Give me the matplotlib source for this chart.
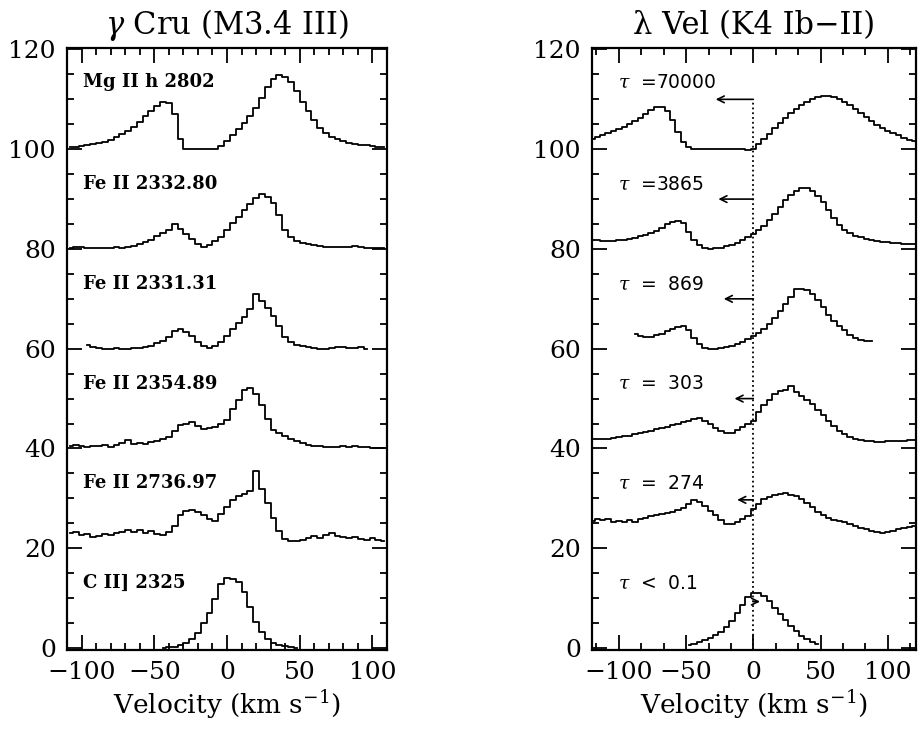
import numpy as np
import matplotlib
matplotlib.use('agg')
matplotlib.rcParams.update(
    {'font.size': 18,
     'font.family': 'DejaVu Serif',
     'mathtext.fontset': 'dejavuserif',
     'axes.linewidth': 1.6}
)
import matplotlib.pyplot as plt
from matplotlib.ticker import MultipleLocator

# ---- gamma Cru (left panel), velocity grids in km/s ----
v_full = np.arange(-108, 109, 4)
v_2331 = np.arange(-96, 97, 4)
v_cii = np.arange(-44, 49, 4)

mg2802 = [100.4, 100.5, 100.6, 100.8, 101.0, 101.2, 101.5, 101.9, 102.4, 103.0,
          103.7, 104.5, 105.5, 106.6, 107.7, 108.7, 109.5, 109.3, 107.0, 102.0,
          100.1, 100.0, 100.0, 100.0, 100.0, 100.1, 100.6, 101.6, 102.8, 104.0,
          105.2, 106.6, 108.2, 110.2, 112.4, 114.0, 114.8, 114.5, 113.5, 111.7,
          109.5, 107.6, 105.8, 104.3, 103.2, 102.5, 102.0, 101.6, 101.3, 101.1,
          100.9, 100.8, 100.6, 100.5, 100.4]
fe2332 = [80.2, 80.3, 80.4, 80.2, 80.1, 80.1, 80.2, 80.2, 80.3, 80.2,
          80.3, 80.6, 80.9, 81.3, 81.8, 82.6, 83.2, 83.8, 85.0, 84.0,
          83.0, 82.0, 81.0, 80.4, 80.8, 81.6, 82.5, 83.8, 85.2, 86.5,
          87.8, 89.0, 90.2, 91.0, 90.5, 89.3, 86.8, 83.8, 82.4, 81.6,
          81.2, 80.9, 80.7, 80.5, 80.4, 80.3, 80.3, 80.4, 80.3, 80.5,
          80.4, 80.2, 80.2, 80.1, 80.1]
fe2331 = [60.7, 60.3, 60.1, 60.0, 60.0, 60.1, 60.0, 60.0, 60.1, 60.2,
          60.4, 60.6, 61.2, 61.6, 62.4, 63.6, 64.0, 63.4, 62.5, 61.3,
          60.5, 60.1, 60.6, 61.4, 62.6, 64.0, 65.2, 66.3, 68.0, 71.0,
          69.5, 68.2, 66.6, 64.6, 62.4, 61.3, 60.8, 60.5, 60.3, 60.2,
          60.0, 60.0, 60.1, 60.3, 60.4, 60.2, 60.2, 60.4, 60.0]
fe2354 = [40.4, 40.6, 40.4, 40.3, 40.5, 40.4, 40.6, 40.3, 40.6, 41.0,
          41.6, 40.9, 41.0, 40.8, 41.2, 41.4, 41.8, 42.4, 43.5, 44.8,
          45.0, 45.3, 44.5, 44.0, 44.2, 44.3, 45.0, 45.8, 48.0, 49.8,
          51.8, 52.2, 51.0, 48.8, 46.0, 43.8, 43.2, 42.5, 42.0, 41.5,
          41.0, 40.7, 40.5, 40.4, 40.2, 40.3, 40.3, 40.4, 40.3, 40.5,
          40.2, 40.3, 40.1, 40.1, 40.0]
fe2736 = [23.0, 23.2, 22.6, 22.8, 22.2, 22.5, 22.8, 22.6, 23.0, 23.2,
          23.6, 23.3, 23.6, 23.0, 23.5, 22.8, 22.6, 23.2, 24.5, 26.6,
          27.4, 27.6, 27.2, 26.6, 25.8, 25.4, 26.8, 28.2, 29.6, 30.4,
          30.8, 31.4, 35.4, 31.8, 29.0, 26.0, 23.4, 21.8, 21.4, 21.4,
          21.6, 22.0, 22.4, 22.0, 22.6, 23.0, 22.4, 22.2, 22.0, 22.2,
          21.8, 21.7, 22.0, 21.6, 21.5]
cii2325 = [0.0, 0.1, 0.2, 0.5, 1.0, 1.8, 3.0, 5.0, 7.0, 9.8,
           12.8, 14.0, 13.9, 13.3, 11.3, 8.3, 5.3, 3.2, 1.8, 1.0,
           0.6, 0.3, 0.1, 0.0]

left_labels = ['Mg II h 2802', 'Fe II 2332.80', 'Fe II 2331.31',
               'Fe II 2354.89', 'Fe II 2736.97', 'C II] 2325']
label_y = [113.5, 93, 73, 53, 33, 13]

# ---- lambda Vel (right panel) ----
v_wide = np.arange(-120, 121, 4)
v_869 = np.arange(-88, 89, 4)
v_thin = np.arange(-48, 49, 4)

tau70000 = [102.0, 102.5, 102.8, 103.2, 103.6, 104.1, 104.5, 105.0, 105.6, 106.3,
            107.0, 107.8, 108.5, 108.4, 107.6, 105.8, 103.5, 101.5, 100.5, 100.1,
            100.0, 100.0, 100.0, 100.0, 100.0, 100.0, 100.0, 100.0, 100.0, 99.9,
            100.0, 101.0, 102.0, 103.0, 104.3, 105.3, 106.3, 107.3, 108.0, 108.8,
            109.4, 110.0, 110.4, 110.6, 110.6, 110.4, 110.0, 109.5, 108.8, 108.0,
            107.2, 106.4, 105.6, 104.9, 104.3, 103.7, 103.2, 102.8, 102.3, 101.9,
            101.6]
tau3865 = [81.7, 81.7, 81.6, 81.6, 81.6, 81.7, 81.8, 81.9, 82.2, 82.6,
           82.9, 83.2, 83.6, 84.3, 85.1, 85.5, 85.7, 85.2, 83.5, 81.7,
           80.7, 80.2, 80.0, 80.1, 80.2, 80.5, 80.8, 81.2, 81.8, 82.4,
           83.0, 83.8, 84.7, 85.8, 87.0, 88.4, 89.8, 90.8, 91.6, 92.3,
           92.2, 91.6, 90.6, 89.4, 87.8, 86.3, 84.9, 83.9, 83.2, 82.7,
           82.3, 82.0, 81.8, 81.6, 81.4, 81.3, 81.2, 81.1, 81.0, 80.9,
           80.9]
tau869 = [62.9, 62.6, 62.3, 62.4, 62.7, 63.0, 63.5, 63.9, 64.3, 64.5,
          63.8, 62.2, 60.9, 60.2, 60.0, 60.0, 60.1, 60.3, 60.6, 61.0,
          61.4, 61.9, 62.6, 63.2, 63.9, 64.9, 66.1, 67.6, 69.0, 70.4,
          72.0, 72.0, 71.7, 71.0, 69.8, 68.4, 66.8, 65.6, 64.5, 63.7,
          62.8, 62.1, 61.7, 61.5, 61.5]
tau303 = [41.8, 41.8, 41.9, 42.0, 42.1, 42.3, 42.5, 42.6, 42.9, 43.1,
          43.3, 43.6, 43.9, 44.1, 44.4, 44.7, 45.0, 45.3, 45.6, 46.0,
          46.1, 45.5, 44.9, 44.1, 43.5, 43.2, 43.2, 43.7, 44.3, 45.0,
          45.6, 47.3, 48.8, 49.8, 51.0, 51.6, 51.8, 52.5, 51.4, 50.5,
          49.8, 49.0, 47.8, 46.7, 45.6, 44.5, 43.6, 42.9, 42.3, 42.0,
          41.7, 41.5, 41.4, 41.3, 41.3, 41.4, 41.4, 41.5, 41.5, 41.6,
          41.6]
tau274 = [25.5, 25.9, 25.6, 25.8, 25.3, 25.4, 25.2, 25.6, 25.3, 25.8,
          26.0, 26.4, 26.6, 26.8, 27.0, 27.3, 27.6, 28.0, 28.8, 29.6,
          29.2, 28.4, 27.4, 26.6, 25.6, 24.9, 24.8, 25.3, 25.9, 26.5,
          27.8, 28.8, 29.8, 30.3, 30.6, 30.9, 31.1, 30.7, 30.4, 29.8,
          29.0, 28.3, 27.2, 26.6, 26.1, 25.7, 25.4, 25.2, 24.8, 24.4,
          24.1, 23.8, 23.5, 23.2, 23.0, 23.3, 23.4, 23.8, 24.0, 24.3,
          24.5]
tau_thin = [0.6, 0.8, 1.1, 1.5, 2.0, 2.6, 3.3, 4.3, 5.5, 7.0,
            8.6, 10.2, 11.1, 11.0, 10.5, 9.5, 8.1, 6.9, 5.6, 4.5,
            3.4, 2.5, 1.8, 1.2, 0.8]

right_labels = [r'$\tau$  =70000', r'$\tau$  =3865', r'$\tau$  =  869',
                r'$\tau$  =  303', r'$\tau$  =  274', r'$\tau$  <  0.1']
# arrow tips (velocity, level) pointing away from v = 0
arrow_v = [-28, -26, -22, -14, -12, 5]
arrow_y = [110, 90, 70, 50, 29.7, 9.3]


def style_axes(ax, xminor):
    ax.xaxis.set_major_locator(MultipleLocator(50))
    ax.xaxis.set_minor_locator(MultipleLocator(xminor))
    ax.yaxis.set_major_locator(MultipleLocator(20))
    ax.yaxis.set_minor_locator(MultipleLocator(5))
    ax.tick_params(which='both', direction='in', top=True, right=True, width=1.3)
    ax.tick_params(which='major', length=11, pad=8)
    ax.tick_params(which='minor', length=5)
    ax.set_ylim(-0.4, 120.3)
    ax.set_xlabel(r'Velocity (km s$^{-1}$)', fontsize=19, labelpad=3)


fig = plt.figure(figsize=(9.18, 7.29), dpi=100)

ax1 = fig.add_axes([0.073, 0.1084, 0.3486, 0.8258])
for v, f in [(v_full, mg2802), (v_full, fe2332), (v_2331, fe2331),
             (v_full, fe2354), (v_full, fe2736), (v_cii, cii2325)]:
    ax1.step(v, f, where='mid', color='k', lw=1.3)
for lab, y in zip(left_labels, label_y):
    ax1.text(-99, y, lab, fontsize=13, fontweight='bold', va='center', ha='left')
ax1.set_xlim(-110, 110)
style_axes(ax1, 10)
ax1.set_title(r'$\gamma$ Cru (M3.4 III)', fontsize=22, pad=10)

ax2 = fig.add_axes([0.6449, 0.1084, 0.3529, 0.8258])
for v, f in [(v_wide, tau70000), (v_wide, tau3865), (v_869, tau869),
             (v_wide, tau303), (v_wide, tau274), (v_thin, tau_thin)]:
    ax2.step(v, f, where='mid', color='k', lw=1.3)
ax2.plot([0, 0], [-0.4, 110], color='k', lw=1.3, ls=':')
for lab, y in zip(right_labels, label_y):
    ax2.text(-101, y, lab, fontsize=13.5, family='DejaVu Sans',
             va='center', ha='left')
for av, ay in zip(arrow_v, arrow_y):
    ax2.annotate('', xy=(av, ay), xytext=(0, ay),
                 arrowprops=dict(arrowstyle='->', lw=1.2, color='k',
                                 shrinkA=0, shrinkB=0, mutation_scale=12))
ax2.set_xlim(-120, 121)
style_axes(ax2, 50 / 3)
ax2.set_title('λ Vel (K4 Ib−II)', fontsize=22, pad=10)

plt.savefig('out.png', dpi=100)
